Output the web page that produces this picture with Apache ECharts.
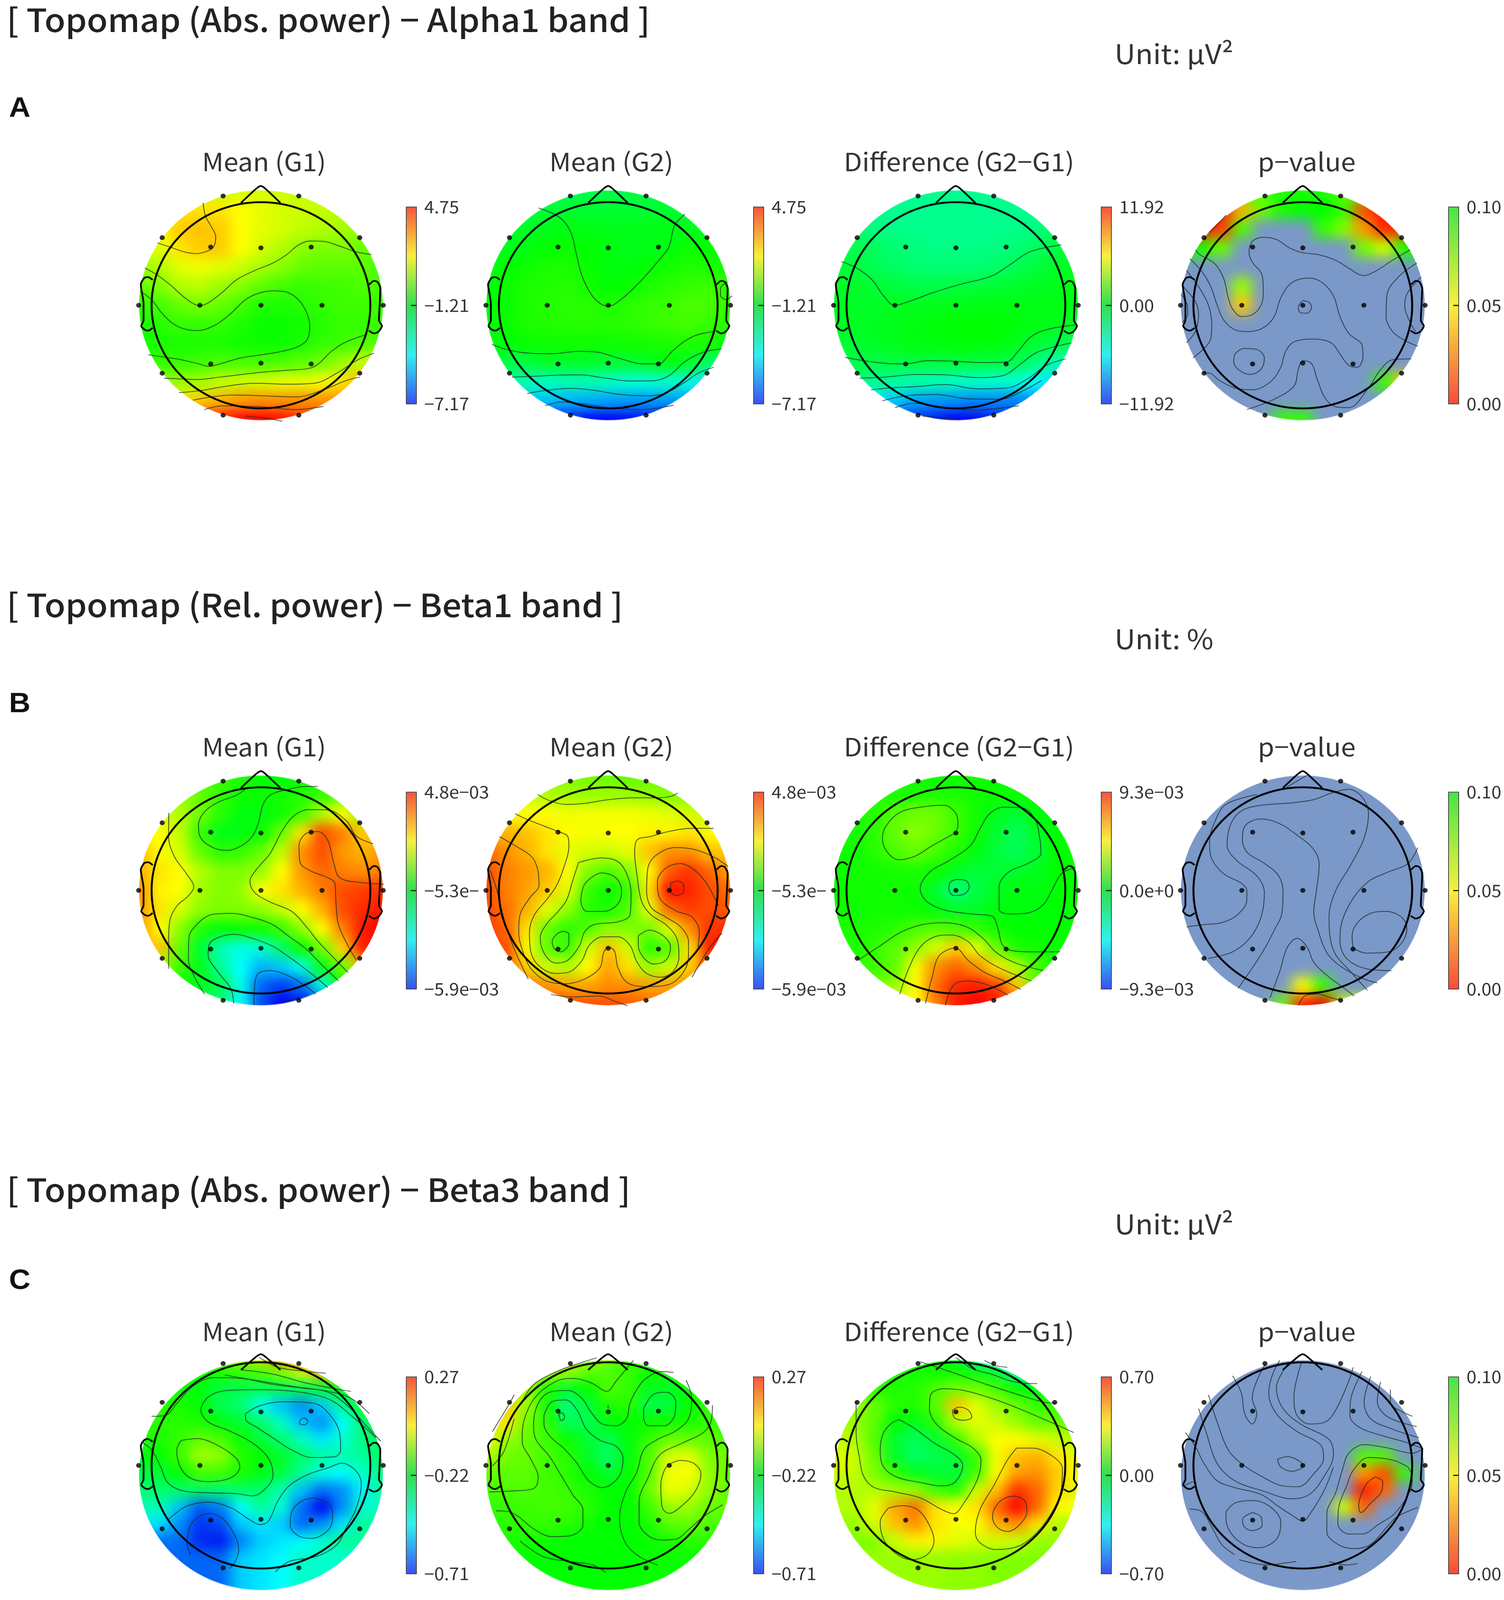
<!DOCTYPE html>
<html>
<head>
<meta charset="utf-8">
<script src="https://cdn.jsdelivr.net/npm/echarts@6/dist/echarts.min.js"></script>
<style>
html,body{margin:0;padding:0;background:#fff;overflow:hidden}
#page{position:relative;width:3850px;height:4345px;transform-origin:0 0}
#clip{position:absolute;left:0;top:0;width:3850px;height:4345px}
#field{position:absolute;left:0;top:0;width:3850px;height:4345px;filter:blur(17px)}
#top{position:absolute;left:0;top:0;width:3850px;height:4345px}
</style>
</head>
<body>
<div id="page">
<div id="clip"><div id="field"></div></div>
<div id="top"></div>
</div>
<script>
// field values on a 13 x 13 lattice, rows top to bottom.
// mean/difference maps: position on the colour bar, -100 bottom .. 100 top
// p maps: p value in thousandths, anything above 100 is the grey-blue area
var alpha1G1 = [
[40,42,42,40,38],
[55,55,55,50,45,42,40,38,35],
[50,60,62,60,50,45,42,38,35,33,30],
[45,55,60,60,50,42,35,28,24,25,20],
[30,35,45,48,45,40,33,27,20,18,18,18,15],
[20,25,35,37,30,27,18,13,10,12,13,15,15],
[10,13,20,24,20,13,6,5,7,10,12,12,12],
[5,7,10,10,10,5,2,2,3,7,10,10,10],
[3,5,5,5,5,3,2,2,5,10,12,15,17],
[10,10,12,15,14,14,15,18,22,30,40],
[30,30,33,38,40,42,45,45,48,55,65],
[55,60,65,70,72,72,72,72,72],
[95,100,100,97,90]];
var alpha1G2 = [
[-15,-15,-14,-14,-14],
[-12,-12,-10,-10,-10,-10,-10,-10,-12],
[-10,-8,-5,-3,-4,-5,-5,-4,-3,-5,-8],
[-6,-3,0,2,0,-3,-5,-5,-3,3,0],
[-4,0,3,5,5,2,-2,-3,0,4,6,5,3],
[-2,2,5,6,7,4,0,1,5,8,10,12,8],
[-2,2,5,7,8,8,5,8,10,12,15,14,10],
[-2,2,5,6,7,7,7,8,10,12,13,10,6],
[-4,-2,2,3,3,3,3,3,4,5,6,4,0],
[-14,-12,-8,-8,-8,-10,-10,-6,-2,-8,-20],
[-30,-35,-38,-35,-35,-38,-42,-42,-40,-45,-55],
[-60,-62,-65,-66,-68,-70,-70,-70,-70],
[-95,-98,-100,-98,-95]];
var alpha1Diff = [
[-28,-28,-28,-28,-28],
[-28,-28,-28,-28,-28,-28,-28,-28,-27],
[-22,-25,-27,-27,-28,-28,-28,-27,-26,-25,-20],
[-15,-18,-22,-24,-26,-26,-26,-25,-23,-18,-12],
[-10,-12,-16,-20,-22,-23,-23,-22,-20,-16,-12,-8,-5],
[-6,-8,-10,-12,-14,-14,-12,-12,-10,-8,-6,-5,-4],
[-6,-7,-8,-6,-6,-5,-5,-4,-4,-4,-4,-4,-4],
[-8,-7,-6,-5,-3,-2,0,0,0,-2,-4,-5,-8],
[-10,-9,-7,-5,-3,-2,-1,-1,-2,-5,-10,-14,-18],
[-14,-14,-13,-12,-13,-12,-12,-13,-15,-25,-35],
[-25,-28,-32,-34,-35,-38,-40,-42,-42,-50,-58],
[-55,-60,-68,-70,-72,-74,-74,-74,-72],
[-90,-95,-100,-98,-92]];
var alpha1P = [
[85,95,95,95,80],
[8,35,80,95,100,100,90,15,3],
[5,12,85,140,140,130,90,75,30,8,8],
[95,80,125,140,140,140,140,115,78,60,95],
[140,140,140,140,140,140,140,140,140,140,140,140,140],
[140,140,140,70,135,140,140,140,140,140,140,140,140],
[140,140,140,40,135,140,140,140,140,140,140,140,140],
[140,140,140,130,140,140,140,140,140,140,140,140,140],
[140,140,140,140,140,140,140,140,140,140,140,140,140],
[140,140,140,140,140,140,140,140,140,125,105],
[140,140,140,140,140,140,140,140,140,90,40],
[140,140,140,140,140,140,140,140,110],
[130,90,90,125,140]];
var beta1G1 = [
[12,5,-2,-2,2],
[30,20,10,3,2,3,6,10,18],
[45,35,22,8,-3,-3,3,12,35,50,28],
[50,38,10,-5,-3,2,20,55,85,75,60],
[65,50,42,20,8,10,20,38,72,85,70,65,70],
[65,55,50,35,25,25,30,50,70,80,75,72,75],
[70,52,50,32,25,28,50,55,65,75,85,88,90],
[70,55,42,28,25,25,28,38,50,65,85,92,95],
[70,50,28,7,-2,2,3,10,28,50,75,95,100],
[62,20,-10,-35,-45,-42,-20,2,22,58,95],
[35,12,-5,-30,-50,-65,-60,-45,-5,20,60],
[2,-5,-15,-45,-80,-88,-80,-45,0],
[-25,-50,-85,-100,-95]];
var beta1G2 = [
[25,22,20,18,20],
[40,35,32,30,30,30,28,25,25],
[50,50,50,47,48,48,48,47,45,42,38],
[65,62,55,50,48,50,50,52,52,55,50],
[80,72,65,55,45,42,40,45,62,72,72,62,60],
[85,75,70,65,50,25,15,25,50,82,90,80,68],
[85,75,68,60,45,10,2,10,55,97,93,85,78],
[85,78,65,45,28,8,5,15,45,80,88,85,82],
[90,80,55,20,8,15,28,25,22,45,72,90,92],
[85,50,18,10,42,62,42,8,15,55,95],
[80,60,40,35,50,68,55,30,40,60,80],
[75,72,68,68,72,72,68,68,72],
[85,85,85,82,80]];
var beta1Diff = [
[2,2,2,2,2],
[5,5,5,5,5,3,2,2,2],
[3,7,17,22,22,12,3,-6,-10,-2,2],
[4,8,20,27,20,12,2,-10,-18,-8,0],
[3,3,7,15,20,14,5,-3,-12,-17,-10,0,2],
[3,3,3,4,5,2,-6,-12,-10,-8,-5,0,2],
[2,3,3,3,2,-10,-25,-14,-6,-3,-3,0,2],
[2,3,3,3,2,-3,-8,-8,-3,-2,-3,0,2],
[5,5,5,8,14,17,14,10,3,0,0,0,2],
[5,10,18,28,42,60,45,20,5,3,2],
[8,12,18,48,72,80,72,55,35,12,5],
[20,30,50,78,92,95,88,60,20],
[50,75,95,100,95]];
var beta1P = [
[140,140,140,140,140],
[140,140,140,140,140,140,140,140,140],
[140,140,140,140,140,140,140,140,140,140,140],
[140,140,140,140,140,140,140,140,140,140,140],
[140,140,140,140,140,140,140,140,140,140,140,140,140],
[140,140,140,140,140,140,140,140,140,140,140,140,140],
[140,140,140,140,140,140,140,140,140,140,140,140,140],
[140,140,140,140,140,140,140,140,140,140,140,140,140],
[140,140,140,140,140,140,140,140,140,140,140,140,140],
[140,140,140,140,140,140,140,140,140,140,140],
[140,140,140,140,140,125,140,140,140,140,140],
[140,140,140,125,50,90,140,140,140],
[140,80,5,0,60]];
var beta3G1 = [
[30,42,58,82,95],
[0,2,5,10,15,25,42,65,58],
[5,3,-3,-12,-15,-15,-15,-15,-12,-3,10],
[8,5,0,-15,-22,-48,-62,-72,-60,-30,-7],
[8,8,7,5,-3,-10,-20,-40,-62,-72,-50,-22,-12],
[5,5,10,20,15,2,-12,-22,-38,-55,-42,-25,-15],
[-5,0,12,32,28,7,0,-8,-20,-32,-35,-30,-20],
[-15,-10,0,13,12,5,-5,-12,-30,-45,-50,-40,-25],
[-25,-20,-20,-20,-22,-20,-20,-35,-62,-78,-72,-52,-30],
[-35,-62,-82,-75,-50,-30,-42,-78,-100,-72,-40],
[-55,-72,-90,-85,-60,-55,-60,-80,-72,-55,-30],
[-78,-92,-95,-75,-60,-55,-50,-40,-30],
[-80,-60,-55,-50,-40]];
var beta3G2 = [
[40,32,28,14,10],
[40,35,30,20,15,10,3,5,8],
[50,30,5,-8,0,15,10,-5,-8,2,10],
[60,30,3,-25,-10,5,8,-15,-12,0,10],
[55,55,22,8,-18,-15,-3,0,2,3,5,10,12],
[50,30,20,12,2,-10,-15,-2,10,20,20,18,15],
[35,22,20,13,8,-8,-20,-2,15,42,45,25,20],
[20,18,18,12,8,0,-10,0,15,48,50,28,20],
[15,15,15,13,10,5,0,0,20,47,42,28,18],
[10,12,13,13,8,0,0,12,30,30,20],
[8,10,10,8,3,0,0,5,18,20,15],
[5,3,0,0,0,0,2,5,8],
[0,0,0,0,2]];
var beta3Diff = [
[8,3,-10,-40,-50],
[10,5,3,3,3,-3,-10,-30,-40],
[20,8,5,7,15,22,22,12,0,-5,5],
[30,20,8,5,17,62,45,32,20,10,12],
[35,30,18,0,-5,8,35,45,40,30,20,20,20],
[40,35,15,-10,-18,-10,10,35,50,50,45,40,35],
[45,40,20,-8,-20,-15,-10,10,48,62,65,55,45],
[40,38,25,10,-5,-10,-12,12,50,68,72,60,50],
[35,35,35,32,30,12,5,40,62,90,80,58,42],
[35,45,68,78,55,50,55,80,100,80,50],
[30,42,62,72,55,48,50,65,72,55,35],
[25,40,52,52,45,42,42,40,30],
[30,30,28,28,25]];
var beta3P = [
[140,140,140,140,140],
[140,140,140,140,140,140,140,140,140],
[140,140,140,140,140,140,140,140,140,140,140],
[140,140,140,140,140,140,140,140,140,140,140],
[140,140,140,140,140,140,140,140,140,140,140,140,140],
[140,140,140,140,140,140,140,140,140,140,140,140,140],
[140,140,140,140,140,140,140,140,140,85,85,125,140],
[140,140,140,140,140,140,140,140,130,30,15,90,140],
[140,140,140,140,140,140,140,140,125,5,20,130,140],
[140,140,140,140,140,140,140,60,20,105,140],
[140,140,140,140,140,140,140,130,120,140,140],
[140,140,140,140,140,140,140,140,140],
[140,140,140,140,140]];

// contour lines, x,y pairs in each map's crop coordinates (0..1568)
var alpha1G1Lines = [
[375,335,385,405,410,460,430,515,420,570,385,595,340,605,290,595,230,570,175,548],
[120,682,170,715,230,770,285,830,330,870,361,883,400,865,460,810,520,745,600,695,680,655,740,610,790,560,840,538,900,540,970,565,1040,595,1110,610],
[100,805,150,850,190,915,240,975,290,1005,350,1015,420,990,490,930,560,850,620,815,680,803,740,810,790,850,825,915,840,990,830,1060,790,1100,720,1125,620,1145,540,1160,440,1195,400,1205,350,1190,280,1170,200,1155,135,1143],
[205,1268,280,1272,350,1275,450,1262,600,1240,750,1225,840,1215,880,1190,930,1130,990,1080,1090,1035],
[270,1345,360,1335,480,1310,600,1295,740,1300,860,1295,960,1240,1050,1170,1120,1135],
[330,1385,400,1370,500,1358,640,1362,780,1368,900,1330,1000,1280,1060,1262],
[380,1435,460,1415,620,1420,780,1435,900,1418],
[560,1470,640,1480,720,1497]];
var alpha1G2Lines = [
[322,362,385,392,430,430,465,500,485,600,510,720,550,820,590,870,626,885,680,850,760,760,840,650,890,570,915,455,960,395],
[118,1088,190,1118,280,1135,380,1138,500,1125,580,1130,680,1165,780,1192,845,1192,900,1130,960,1070,1020,1035,1090,1020],
[205,1262,300,1258,400,1252,500,1250,600,1265,720,1283,820,1282,890,1255,960,1180,1040,1130,1120,1112],
[272,1350,360,1332,460,1322,560,1332,680,1355,800,1362,880,1345,960,1290,1020,1240,1085,1210],
[350,1415,420,1395,520,1405,640,1428,780,1435,910,1412],
[1145,755,1115,790,1115,825,1140,850,1165,830]];
var alpha1DiffLines = [
[125,648,190,680,260,745,310,830,358,880,420,860,520,815,640,770,780,725,860,665,940,600,1020,572,1085,558],
[142,1158,240,1178,330,1190,405,1192,500,1175,620,1178,740,1185,845,1182,900,1120,950,1050,1020,1010,1145,985],
[205,1268,320,1262,450,1248,580,1250,720,1265,830,1255,900,1200,980,1130,1130,1080],
[255,1330,340,1320,460,1312,580,1302,720,1325,850,1320,940,1270,1020,1200,1105,1165],
[305,1388,420,1360,540,1355,680,1378,820,1380,910,1340,1000,1280],
[360,1425,440,1402,560,1420,700,1438,900,1415],
[480,1470,640,1490]];
var alpha1PLines = [
[160,585,180,610,250,660,290,740,310,840,330,900,370,940,420,930,460,880,470,800,465,720,420,650,405,600,420,540,470,518,530,530,590,575,650,600,720,610,800,640,870,690,925,722,980,700,1060,640,1140,585],
[135,632,190,700,230,780,260,880,290,960,340,1010,400,1020,470,1000,520,940,550,840,600,760,680,735,740,760,790,830,820,940,860,1030,920,1090,925,1150,900,1210,860,1200,820,1140,780,1080,700,1060,610,1075,570,1130,550,1210,500,1290,420,1330,340,1320,270,1280,220,1240,195,1240],
[120,695,180,790,220,880,235,980,230,1060,150,1160],
[100,775,160,860,175,930,160,1020,120,1080],
[95,820,125,890,125,930,100,970],
[651,855,680,865,690,890,670,922,640,920,630,890,651,855],
[340,1140,380,1110,440,1115,475,1160,460,1220,410,1248,360,1225,335,1180,340,1140],
[395,1435,520,1380,610,1310,630,1220,650,1175,690,1190,715,1270,750,1370,800,1420,860,1425,950,1320,1000,1230,1060,1170,1145,1165],
[1170,655,1090,725,1035,820,1030,940,1060,1020,1120,1070,1175,1098],
[1190,730,1130,810,1115,880,1135,960,1165,1020],
[300,400,270,440,225,492]];
var beta1G1Lines = [
[838,325,790,325,700,345,640,370,610,420,590,520,565,590,520,640,460,665,400,650,350,600,340,530,365,460,420,410,500,370,540,335],
[216,465,215,590,240,700,290,790,320,860,295,910,250,960,220,1040,215,1150,215,1295],
[1115,845,1010,835,930,810,905,730,880,610,840,565,790,575,760,640,765,730,810,775,880,810,910,840,915,950,925,1060,960,1160,1000,1250],
[1070,630,1000,590,960,510,880,450,800,448,740,480,690,560,640,680,580,770,555,830,575,890,640,940,730,990,790,1070,840,1150,900,1230,965,1315],
[365,1430,320,1330,298,1250,300,1130,340,1050,400,1005,480,1000,560,1020,650,1060,720,1125,790,1190,860,1280,925,1360],
[487,1480,475,1400,420,1310,380,1220,385,1165,420,1130,490,1112,570,1135,650,1175,710,1225,780,1290,840,1350,880,1395],
[572,1490,575,1380,590,1320,640,1305,720,1335,790,1390,830,1430],
[700,1470,760,1445]];
var beta1G2Lines = [
[305,368,350,398,420,420,500,415,600,395,700,385,800,385,860,378,890,360],
[210,470,260,500,330,535,390,565,430,590,435,640,410,770,380,860,340,930,290,1010,270,1100,275,1200,310,1280,380,1320,440,1310,490,1250,520,1170,575,1125,640,1125,690,1170,720,1260,760,1320,820,1340,870,1310,895,1230,885,1130,840,1060,780,1010,740,940,720,800,710,680,720,610,780,590,850,565,950,548,1040,548],
[145,592,210,640,280,700,305,770,310,850,270,920,230,1010,225,1100,250,1230,280,1300,340,1360,420,1375,500,1350,565,1290,580,1210,600,1180,625,1200,640,1290,680,1370,760,1390,850,1380,910,1320,935,1230,935,1150,900,1070,840,1020,780,970,760,880,765,760,800,690,880,650,960,660,1040,700,1100,750],
[475,730,570,705,640,725,680,800,695,900,690,1010,640,1045,540,1060,500,1100,480,1170,430,1250,380,1265,335,1220,315,1130,340,1060,390,990,425,930,450,830,475,730],
[510,830,570,785,630,810,655,880,640,950,580,990,510,990,485,930,495,860,510,830],
[410,1095,435,1110,435,1160,400,1205,375,1190,365,1150,385,1110,410,1095],
[725,1120,770,1090,830,1120,860,1180,840,1250,790,1270,750,1240,725,1170,725,1120],
[1060,960,1010,840,960,770,900,735,840,760,805,830,815,920,880,985,950,1020,980,1100,975,1180],
[860,840,890,828,915,850,915,885,885,905,860,880,860,840],
[105,770,130,860,170,1060,210,1200,265,1350],
[360,1432,450,1445,560,1440,630,1470,680,1492],
[1075,1105,1020,1190,950,1340]];
var beta1DiffLines = [
[598,572,500,640,430,695,360,715,310,670,292,600,310,530,370,460,480,430,550,425,600,470,608,530,598,572],
[1100,755,1040,790,1000,880,960,960,890,1000,820,1003,780,980,780,860,820,780,900,735,955,680,950,600,930,500,880,440,800,435,740,470,700,550,660,640,570,720,490,780,450,870,480,940,560,985,680,1005,750,1015,775,1080,795,1170,840,1200,930,1205,1035,1205],
[600,820,640,825,655,860,630,900,590,905,570,870,575,835,600,820],
[190,1250,280,1175,370,1100,460,1060,550,1050,640,1070,710,1130,770,1210,850,1265,965,1305],
[365,1430,400,1300,450,1180,510,1125,580,1115,650,1150,700,1225,780,1290,915,1360],
[472,1480,500,1340,530,1225,598,1185,650,1250,720,1315,810,1365,870,1405],
[555,1490,580,1400,610,1365,650,1360,730,1380,815,1435]];
var beta1PLines = [
[120,1072,200,1060,280,1050,350,1010,395,930,395,880,370,840,290,790,235,710,225,620,250,510,300,420,440,368],
[355,1400,420,1290,470,1200,520,1090,555,1000,560,890,540,800,470,730,400,680,375,610,390,530,460,498,540,520,620,580,700,660,725,740,710,900,700,990,720,1090,760,1210,820,1280,920,1345,990,1370],
[220,1240,330,1205,410,1130,460,1020,475,890,440,800,350,720,305,640,320,530,370,455,460,425,600,412,700,395,780,360,860,340,920,380,950,470,930,600,870,740,800,880,770,1020,775,1130,800,1220,860,1300,945,1410],
[500,1450,545,1310,580,1180,625,1133,670,1180,700,1260,760,1330,840,1400,885,1440],
[1175,650,1130,735,1040,780,950,830,880,920,830,1040,820,1150,850,1240,940,1295,1055,1305],
[880,1185,875,1120,900,1050,960,1000,1030,990,1100,1020,1125,1080,1100,1160,1040,1205,940,1212,880,1185],
[630,1490,660,1440,720,1430,780,1450,822,1462],
[575,330,670,265]];
var beta3G1Lines = [
[150,605,210,600,260,530,330,430,420,380,540,385,680,420,800,440,920,465,1010,550,1080,650,1150,750],
[470,365,600,395,760,430,920,460,1020,500,1100,590],
[540,335,680,360,820,410,950,445,1020,460],
[620,262,700,320,800,340,910,355],
[105,755,150,800,190,900,220,990,290,1040,400,1050,520,1055,590,1068,640,1035,680,950,660,850,590,760,490,690,400,640,365,570,400,490,480,455,620,450,800,465,930,510,1020,600,1130,730],
[280,745,350,735,440,775,520,850,535,900,500,960,400,985,320,965,275,900,260,800,280,745],
[560,590,620,545,720,520,860,530,930,600,970,700,975,800,950,840,850,845,760,800,690,740,610,670,560,620,560,590],
[800,625,815,615,832,635,815,655,795,645,800,625],
[220,1210,300,1130,400,1105,500,1140,570,1200,625,1235,660,1215,700,1100,750,1010,830,945,920,905,980,878,1040,920,1065,1000,1040,1150,1000,1250,960,1350,870,1420,750,1450,690,1510],
[860,1080,920,1110,940,1170,925,1260,850,1315,790,1300,755,1240,765,1150,810,1095,860,1080],
[320,1410,305,1340,330,1220,400,1170,460,1200,510,1290,530,1380,515,1450,490,1490]];
var beta3G2Lines = [
[120,695,195,530,215,480],
[120,895,170,810,215,620],
[250,520,300,420,400,345,480,305,575,265],
[105,1045,200,1040,300,1025,320,960,290,860,250,750,260,620,310,490,400,400,470,385,550,410,620,460,660,400,735,280],
[135,1155,190,1160,230,1185,300,1260,380,1305,460,1300,515,1240,515,1150,470,1060,420,950,370,840,310,740,300,650,320,530,370,465,450,455,510,500,550,580,600,650,660,660,705,620,720,530,750,450,790,385,860,345,910,350],
[345,600,380,520,440,510,490,570,530,680,590,745,660,780,690,850,670,960,600,1020,540,980,490,880,430,790,370,720,345,650,345,600],
[780,560,820,480,880,465,920,520,915,600,870,660,800,660,780,610,780,560],
[410,590,420,630,435,615,425,585,410,590],
[625,540,625,560],
[840,1470,760,1420,700,1340,675,1200,700,1050,750,930,780,800,840,740,920,690,975,620,990,500,965,395],
[890,885,940,862,1000,880,1030,940,1010,1030,960,1110,890,1170,860,1130,855,1000,870,920,890,885],
[1080,540,1075,630,1040,700,950,760,850,830,800,960,760,1100,760,1220,800,1300,860,1325,920,1320,980,1260,1040,1190,1125,1120],
[240,1330,340,1420,460,1450,560,1470,615,1515]];
var beta3DiffLines = [
[470,288,600,345,760,420,900,480,1000,520,1060,530],
[1140,700,1040,640,900,560,780,500,660,455,570,445,515,480,510,560,540,650,620,730,700,790,735,860,720,970,660,1110,615,1172,560,1145,470,1080,360,1045,270,1020,225,960,205,850,190,700,190,520],
[380,625,450,680,530,760,620,830,655,890,620,990,560,1010,470,990,370,960,310,900,295,800,310,700,350,640,380,625],
[610,570,640,552,680,570,695,610,660,628,620,615,610,570],
[890,790,960,790,1050,840,1090,910,1085,1030,1050,1150,980,1280,900,1360,800,1380,730,1340,710,1280,730,1150,790,1010,850,860,890,790],
[885,1070,925,1095,935,1160,900,1240,850,1275,805,1250,785,1190,810,1110,860,1072,885,1070],
[330,1140,390,1125,460,1150,510,1240,530,1330,500,1410,430,1440,360,1400,310,1320,295,1220,330,1140],
[625,262,700,330,780,360,880,405,980,415],
[750,280,800,310,850,320]];
var beta3PLines = [
[330,370,370,470,385,590,420,650,440,590,420,500,440,400,480,300],
[220,480,260,640,310,800,370,880,470,960,560,1010,630,1015,700,940,745,850,730,770,620,690,530,590,495,470,510,370,545,280],
[175,560,210,700,260,880,340,980,470,1040,600,1085,680,1060,745,960,790,830,770,740,640,650,560,560,530,440,565,330,590,290],
[115,700,160,780,200,880,260,980,340,1020,460,1060,540,1130,600,1180,650,1215,690,1160,750,1030,790,900],
[300,1160,340,1110,420,1095,500,1130,550,1220,530,1320,450,1370,380,1350,320,1280,300,1200,300,1160],
[420,1165,460,1190,465,1240,420,1270,385,1250,375,1205,420,1165],
[535,855,580,840,640,870,650,895,600,925,550,900,535,855],
[645,290,610,490,620,590,680,650,750,640,800,570,860,400,880,320],
[920,345,870,500,865,600,910,670,1020,720,1130,760,1200,795],
[960,375,930,520,960,620,1060,680,1180,730],
[1005,405,990,520,1040,610,1170,665],
[1050,450,1050,530,1090,570,1150,605],
[1190,800,1150,820,1040,790,930,770,860,820,830,920,800,1050,760,1170,760,1280,810,1350,885,1375,960,1350,1040,1240,1080,1190,1175,1135],
[1130,900,1060,860,950,845,880,920,850,1010,815,1130,810,1230,860,1290,920,1290,1000,1230,1070,1170,1140,1040,1150,960,1130,900],
[980,958,1015,985,1010,1040,960,1110,915,1165,905,1130,940,1000,980,958],
[135,1145,190,1160,240,1260,280,1350,340,1410],
[360,1440,490,1470,560,1460,620,1450],
[770,1450,850,1470,900,1462],
[105,1010,150,985]];

// electrode layout in head radii
var elecX = [-0.346,0.346,-0.903,-0.459,0,0.459,0.903,-1.118,-0.558,0,0.558,1.118,-0.903,-0.459,0,0.459,0.903,-0.346,0.346];
var elecY = [1.06,1.06,0.656,0.565,0.557,0.565,0.656,0,0,0,0,0,-0.659,-0.569,-0.561,-0.569,-0.659,-1.066,-1.066];

// head outline traced on the first map's crop
var noseLine = [540,335,608,258,627,245,645,258,712,335];
var earLeft = [155,745,135,730,118,735,103,770,115,870,115,960,105,990,120,1010,135,1015,155,1000];
var earRight = [1100,770,1120,750,1135,755,1148,790,1145,880,1142,960,1155,990,1140,1020,1120,1030,1098,1015];

var columnX = [668,1557,2447,3335];
var rowY = [829,2418,4006];
var barX = [1040,1929,2819,3708];
var cropX = [[300,1190,2080,2970],[300,1190,2080,2970],[300,1190,2080,2970]];
var cropW = [[920,920,920,880],[960,960,960,880],[920,920,920,880]];
var cropY = [380,1970,3560];
var cropH = [800,800,785];

var mapTitles = ['Mean (G1)','Mean (G2)','Difference (G2\u2212G1)','p\u2212value'];
var sectionTitles = ['[ Topomap (Abs. power) \u2212 Alpha1 band ]','[ Topomap (Rel. power) \u2212 Beta1 band ]','[ Topomap (Abs. power) \u2212 Beta3 band ]'];
var sectionY = [53,1642,3230];
var units = ['Unit: \u03bcV\u00b2','Unit: %','Unit: \u03bcV\u00b2'];
var unitY = [144,1733,3322];
var letters = ['A','B','C'];
var letterY = [291,1908,3474];

var fields = [[alpha1G1,alpha1G2,alpha1Diff,alpha1P],[beta1G1,beta1G2,beta1Diff,beta1P],[beta3G1,beta3G2,beta3Diff,beta3P]];
var lines = [[alpha1G1Lines,alpha1G2Lines,alpha1DiffLines,alpha1PLines],[beta1G1Lines,beta1G2Lines,beta1DiffLines,beta1PLines],[beta3G1Lines,beta3G2Lines,beta3DiffLines,beta3PLines]];
// colour bar ends: bottom, top
var ranges = [
[[-7.17,4.75],[-7.17,4.75],[-11.92,11.92],[0,0.1]],
[[-0.0059,0.0048],[-0.0059,0.0048],[-0.0093,0.0093],[0,0.1]],
[[-0.71,0.27],[-0.71,0.27],[-0.70,0.70],[0,0.1]]];
var barLabels = [
[['\u22127.17','\u22121.21','4.75'],['\u22127.17','\u22121.21','4.75'],['\u221211.92','0.00','11.92'],['0.00','0.05','0.10']],
[['\u22125.9e\u221203','\u22125.3e\u2212','4.8e\u221203'],['\u22125.9e\u221203','\u22125.3e\u2212','4.8e\u221203'],['\u22129.3e\u221203','0.0e+0','9.3e\u221203'],['0.00','0.05','0.10']],
[['\u22120.71','\u22120.22','0.27'],['\u22120.71','\u22120.22','0.27'],['\u22120.70','0.00','0.70'],['0.00','0.05','0.10']]];

var FONT = '"Noto Sans CJK KR","Noto Sans",sans-serif';
var jetColors = ['#0000f0','#00ffff','#00ff00','#ffff00','#ff0000'];
// p scale runs on to 0.15 so that 0.10 .. 0.15 can fall out of range
var pColors = ['#ff0000','#ffff00','#00ff00','#00ff00'];
var barJet = ['#f5543c','#f8f03c','#30e050','#30f0f0','#3a50f0'];
var barP = ['#45e648','#f8f03c','#f84a3c'];
var HEAD = 280, CELL = 52, PAD = 8;

// the browser window can come out shorter than the figure, keep the whole figure in it
document.getElementById('page').style.transform = 'scale(1,' + Math.min(1, window.innerHeight / 4345) + ')';

var field = echarts.init(document.getElementById('field'), null, {renderer:'canvas', devicePixelRatio:1});
var topChart = echarts.init(document.getElementById('top'), null, {renderer:'canvas', devicePixelRatio:1});

var latticeCats = [];
for (var k = 0; k < 2*PAD+1; k++) latticeCats.push(String(k));

function fieldPoints(rows, r, q) {
	var pts = [];
	var lo = ranges[r][q][0], hi = ranges[r][q][1];
	for (var j = -PAD; j <= PAD; j++) {
		// edge cells repeat outwards, the clip hides them; only there so the blur has no white rim
		var row = rows[Math.max(-6, Math.min(6, j)) + 6];
		var half = (row.length - 1) / 2;
		for (var i = -PAD; i <= PAD; i++) {
			var t = row[Math.max(-half, Math.min(half, i)) + half];
			var v = q === 3 ? t / 1000 : lo + (t + 100) / 200 * (hi - lo);
			pts.push([i + PAD, j + PAD, v]);
		}
	}
	return pts;
}

function cropToHead(xy, r, q) {
	var px = cropX[r][q] + xy[0] * cropW[r][q] / 1568;
	var py = cropY[r] + xy[1] * cropH[r] / 1568;
	return [(px - columnX[q]) / HEAD, (rowY[r] - py) / HEAD];
}

function flatToLine(list, r, q) {
	var out = [];
	list.forEach(function (flat) {
		for (var i = 0; i < flat.length; i += 2) out.push(cropToHead([flat[i], flat[i+1]], r, q));
		out.push(['-','-']);
	});
	return out;
}

var fieldOption = {animation:false, grid:[], xAxis:[], yAxis:[], visualMap:[], series:[]};
var topOption = {animation:false, title:[], grid:[], xAxis:[], yAxis:[], series:[]};
var clipPath = '';

letters.forEach(function (letter, r) {
	topOption.title.push({text:sectionTitles[r], left:12, top:sectionY[r]-48, textStyle:{fontFamily:FONT, fontSize:87, fontWeight:500, color:'#222'}});
	topOption.title.push({text:units[r], left:2848, top:unitY[r]-40, textStyle:{fontFamily:FONT, fontSize:74, fontWeight:400, color:'#333'}});
	topOption.title.push({text:letter, left:18, top:letterY[r]-38, textStyle:{fontFamily:'"Liberation Sans",sans-serif', fontSize:76, fontWeight:'bold', color:'#111'}});

	columnX.forEach(function (cx, q) {
		var cy = rowY[r];
		var idx = fieldOption.series.length;
		fieldOption.grid.push({left:cx-(2*PAD+1)*CELL/2, top:cy-(2*PAD+1)*CELL/2, width:(2*PAD+1)*CELL, height:(2*PAD+1)*CELL});
		fieldOption.xAxis.push({type:'category', gridIndex:idx, data:latticeCats, show:false});
		fieldOption.yAxis.push({type:'category', gridIndex:idx, data:latticeCats, inverse:true, show:false});
		fieldOption.visualMap.push(q === 3 ? {
			show:false, seriesIndex:idx, dimension:2, min:0, max:0.15, range:[0,0.1],
			inRange:{color:pColors},
			outOfRange:{color:'#7a98c8'}
		} : {
			show:false, seriesIndex:idx, dimension:2, min:ranges[r][q][0], max:ranges[r][q][1],
			inRange:{color:jetColors}
		});
		fieldOption.series.push({type:'heatmap', xAxisIndex:idx, yAxisIndex:idx, data:fieldPoints(fields[r][q], r, q), progressive:0});
		clipPath += 'M'+(cx-312)+' '+cy+' a312 312 0 1 0 624 0 a312 312 0 1 0 -624 0 Z ';

		// head, contours and electrodes, in head radii
		var g = topOption.grid.length;
		topOption.grid.push({left:cx-1.4*HEAD, top:cy-1.4*HEAD, width:2.8*HEAD, height:2.8*HEAD});
		topOption.xAxis.push({type:'value', gridIndex:g, min:-1.4, max:1.4, show:false});
		topOption.yAxis.push({type:'value', gridIndex:g, min:-1.4, max:1.4, show:false});
		topOption.series.push({
			type:'line', xAxisIndex:g, yAxisIndex:g, data:flatToLine(lines[r][q], r, q), smooth:0.35,
			showSymbol:false, symbol:'none', clip:false, z:3, connectNulls:false,
			lineStyle:{color:'#1c2a2a', width:2, opacity:0.85}, silent:true
		});
		topOption.series.push({
			type:'line', xAxisIndex:g, yAxisIndex:g, data:flatToLine([noseLine,earLeft,earRight], 0, 0), smooth:0.25,
			showSymbol:false, symbol:'none', clip:false, z:4, connectNulls:false,
			lineStyle:{color:'#000', width:4.5}, silent:true
		});
		topOption.series.push({
			type:'custom', xAxisIndex:g, yAxisIndex:g, data:[[0,0]], clip:false, z:4, silent:true,
			renderItem:function (params, api) {
				var c = api.coord([0,0]);
				return {type:'circle', shape:{cx:c[0], cy:c[1], r:api.size([1,0])[0]}, style:{fill:'none', stroke:'#000', lineWidth:5}};
			}
		});
		topOption.series.push({
			type:'scatter', xAxisIndex:g, yAxisIndex:g, symbolSize:13, z:5, clip:false, silent:true,
			data:elecX.map(function (x, n) { return [x, elecY[n]]; }),
			itemStyle:{color:'#000'}
		});

		// colour bar
		var lo = ranges[r][q][0], hi = ranges[r][q][1], mid = (lo + hi) / 2;
		var labs = barLabels[r][q];
		var b = topOption.grid.length;
		var stops = (q === 3 ? barP : barJet);
		topOption.grid.push({left:barX[q], top:cy-267, width:26, height:535});
		topOption.xAxis.push({type:'category', gridIndex:b, data:['bar'], show:false});
		topOption.yAxis.push({
			type:'value', gridIndex:b, min:lo, max:hi, position:'right', z:6,
			axisLine:{show:false}, splitLine:{show:false},
			axisTick:{show:true, inside:true, length:14, customValues:[mid], lineStyle:{color:'#111', width:3}},
			axisLabel:{show:true, margin:20, fontFamily:FONT, fontSize:46, color:'#333', customValues:[lo,mid,hi],
				formatter:(function (labs, lo, mid) { return function (v) { return v === lo ? labs[0] : (v === mid ? labs[1] : labs[2]); }; })(labs, lo, mid)}
		});
		topOption.series.push({
			type:'custom', xAxisIndex:b, yAxisIndex:b, data:[[0,lo,hi]], z:2, silent:true,
			renderItem:(function (stops) { return function (params, api) {
				var a = api.coord([api.value(0), api.value(2)]);
				var z = api.coord([api.value(0), api.value(1)]);
				var w = api.size([1,0])[0];
				return {type:'rect', shape:{x:a[0]-w/2, y:a[1], width:w, height:z[1]-a[1]},
					style:{stroke:'#444', lineWidth:2, fill:new echarts.graphic.LinearGradient(0,0,0,1,
						stops.map(function (c, n) { return {offset:n/(stops.length-1), color:c}; }))}};
			}; })(stops)
		});

		topOption.title.push({text:mapTitles[q], left:cx+(q === 3 ? 5 : 3), top:cy-429, textAlign:'center', textStyle:{fontFamily:FONT, fontSize:68, fontWeight:400, color:'#333'}});
	});
});

field.setOption(fieldOption);
topChart.setOption(topOption);
document.getElementById('clip').style.clipPath = 'path("' + clipPath + '")';
</script>
</body>
</html>
